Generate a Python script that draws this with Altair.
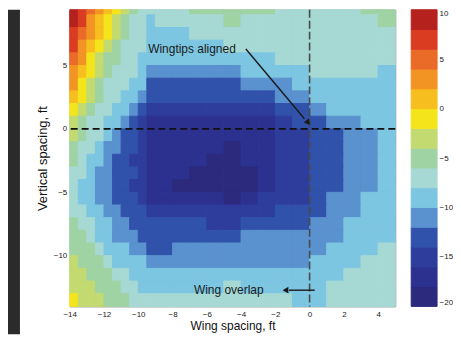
import altair as alt
import pandas as pd

# ---- grid of the contour field ----
x_edges = [-14, -13.5, -13, -12.5, -12, -11.5, -11, -10.5, -10, -9.5, -9,
           -8, -7, -6, -5, -4, -3, -2, -1, 0, 1, 2, 3, 4, 5]
y_edges_top_down = [9.4, 9, 8, 7, 6, 5, 4, 3, 2, 1, 0, -1, -2, -3, -4, -5,
                    -6, -7, -8, -9, -10, -11, -12, -13, -14]

values = [
    [8.5, 7.0, 5.0, 2.2, 0.2, -1.9, -3.6, -5.3, -6.5, -7.0, -7.0, -6.5, -5.9, -5.5, -5.3, -5.5, -5.9, -6.3, -6.6, -6.7, -6.5, -6.1, -5.6, -5.2],
    [8.1, 6.1, 3.8, 1.4, -0.7, -2.7, -4.4, -6.1, -7.2, -8.3, -7.7, -7.2, -6.7, -6.1, -5.6, -6.1, -6.5, -6.8, -7.0, -7.1, -6.9, -6.5, -6.1, -5.6],
    [7.3, 5.0, 2.5, 0.2, -1.9, -3.7, -5.4, -7.0, -7.7, -8.6, -8.4, -8.05, -7.8, -7.4, -7.0, -7.0, -7.2, -7.3, -7.4, -7.4, -7.3, -7.0, -6.6, -6.3],
    [6.2, 3.9, 1.2, -1.0, -3.0, -4.8, -6.3, -7.1, -7.9, -8.8, -9.0, -8.8, -8.5, -8.3, -7.9, -7.6, -7.5, -7.6, -7.7, -7.7, -7.6, -7.4, -7.1, -6.8],
    [5.2, 2.4, -0.1, -2.3, -4.1, -5.9, -6.8, -7.6, -8.1, -9.2, -9.6, -9.7, -9.6, -9.3, -9.0, -8.6, -8.1, -7.8, -7.9, -7.9, -7.9, -7.8, -7.6, -7.4],
    [3.9, 1.0, -1.4, -3.3, -5.2, -6.5, -7.3, -7.9, -9.0, -10.3, -10.8, -10.9, -10.8, -10.6, -10.6, -9.9, -9.4, -9.0, -8.4, -7.95, -7.9, -7.95, -7.95, -8.1],
    [2.1, -0.4, -2.6, -4.5, -6.2, -6.9, -7.6, -8.5, -9.9, -12.3, -12.8, -13.0, -13.0, -12.8, -12.5, -11.8, -11.0, -10.2, -9.5, -9.0, -8.6, -8.4, -8.3, -8.3],
    [0.8, -1.8, -3.8, -5.8, -6.6, -7.4, -8.3, -9.6, -11.9, -13.5, -13.8, -13.9, -13.9, -13.8, -13.6, -13.3, -12.2, -11.5, -10.3, -9.6, -9.2, -8.9, -8.7, -8.6],
    [-0.8, -2.9, -4.9, -6.5, -7.1, -8.2, -9.7, -11.4, -13.9, -14.8, -15.2, -15.4, -15.4, -15.3, -15.2, -15.0, -14.5, -13.5, -12.2, -11.0, -9.9, -9.4, -9.1, -8.9],
    [-2.1, -4.1, -6.1, -7.1, -8.1, -9.7, -11.1, -12.5, -14.6, -16.3, -16.8, -17.2, -17.4, -17.5, -17.7, -17.2, -16.2, -15.0, -13.6, -12.5, -11.2, -10.6, -9.9, -9.4],
    [-3.3, -5.6, -6.8, -7.7, -9.2, -10.8, -12.1, -13.6, -15.3, -16.6, -17.2, -17.6, -17.8, -17.9, -17.95, -17.6, -16.8, -15.3, -14.2, -13.0, -12.2, -11.2, -10.3, -9.4],
    [-4.3, -6.4, -7.4, -8.6, -10.1, -11.4, -12.7, -13.8, -15.4, -16.8, -17.4, -17.8, -17.95, -17.95, -18.4, -17.8, -17.1, -15.8, -14.6, -13.2, -12.3, -11.3, -10.4, -9.5],
    [-5.0, -6.8, -8.05, -9.5, -10.8, -12.05, -13.0, -14.1, -15.5, -16.9, -17.5, -17.9, -17.95, -18.5, -18.9, -17.95, -17.2, -15.9, -14.6, -13.3, -12.4, -11.4, -10.5, -9.6],
    [-6.1, -7.5, -8.8, -10.1, -11.3, -12.5, -13.3, -14.0, -15.5, -16.9, -17.5, -17.9, -18.2, -19.0, -19.3, -18.05, -17.2, -15.9, -14.6, -13.3, -12.4, -11.4, -10.5, -9.6],
    [-6.9, -8.3, -9.5, -10.8, -11.9, -12.8, -13.5, -14.1, -15.5, -16.6, -17.4, -18.05, -18.6, -19.2, -19.4, -18.6, -17.3, -15.9, -14.6, -13.2, -12.3, -11.4, -10.2, -9.4],
    [-7.0, -8.05, -9.1, -10.1, -11.2, -12.3, -13.1, -13.8, -15.0, -16.1, -16.6, -17.2, -17.7, -17.95, -18.3, -17.6, -15.8, -15.3, -14.1, -13.0, -11.9, -11.0, -9.9, -9.3],
    [-6.05, -7.3, -8.5, -9.5, -10.5, -11.4, -12.4, -13.3, -14.0, -14.6, -15.0, -15.3, -15.5, -15.7, -15.8, -15.6, -14.7, -13.7, -13.2, -12.2, -11.3, -10.3, -9.4, -9.0],
    [-5.8, -7.0, -7.9, -9.1, -9.9, -10.7, -11.8, -12.5, -13.0, -13.3, -13.6, -13.8, -13.95, -14.2, -14.3, -13.95, -13.6, -13.3, -12.05, -11.6, -11.0, -9.9, -9.2, -8.6],
    [-4.9, -5.7, -6.6, -8.3, -9.3, -10.1, -10.8, -11.6, -12.2, -12.5, -12.7, -12.9, -13.0, -13.0, -12.9, -12.0, -11.7, -11.5, -11.2, -10.9, -10.1, -9.4, -8.9, -8.1],
    [-4.3, -5.2, -5.8, -6.9, -8.3, -9.0, -9.6, -10.2, -11.2, -12.1, -12.2, -11.9, -11.7, -11.6, -11.5, -11.4, -11.2, -11.0, -10.8, -10.4, -9.6, -9.0, -8.3, -7.5],
    [-3.4, -4.5, -5.2, -5.8, -7.0, -8.05, -8.8, -9.4, -9.9, -10.3, -10.4, -10.5, -10.5, -10.5, -10.5, -10.4, -10.4, -10.3, -10.2, -9.95, -9.3, -8.4, -7.6, -7.1],
    [-2.6, -3.6, -4.4, -5.0, -5.7, -6.8, -7.8, -8.4, -8.8, -9.1, -9.4, -9.5, -9.6, -9.6, -9.6, -9.6, -9.6, -9.6, -9.7, -9.4, -8.7, -7.7, -7.2, -6.8],
    [-2.2, -2.9, -3.8, -4.5, -5.2, -5.8, -6.6, -7.4, -8.1, -8.4, -8.6, -8.6, -8.5, -8.2, -7.9, -8.2, -8.5, -8.6, -8.6, -8.4, -7.9, -7.3, -6.9, -6.6],
    [-1.3, -2.2, -3.1, -3.9, -4.5, -5.1, -5.8, -6.5, -7.2, -7.7, -7.95, -7.8, -7.6, -7.4, -7.3, -7.5, -7.7, -7.95, -8.2, -8.05, -7.5, -7.0, -6.6, -6.3],
]

# contour levels and their colours
levels = [-18, -16, -14, -12, -10, -8, -6, -4, -2, 0, 2, 4, 6, 8]
level_colors = ["#2c2a7d", "#2c318f", "#2e3c9c", "#3152aa", "#5a91cf",
                "#7cc6e2", "#a6d9d4", "#9fd3a4", "#c3da70", "#f4e41c",
                "#f6be1e", "#f29424", "#ea6a28", "#da3c22", "#b5221e"]

# colour bar bands
cbar_lo = [-20, -18, -16, -14, -12, -10, -8, -6, -4, -2, 0, 2, 4, 6, 8]
cbar_hi = [-18, -16, -14, -12, -10, -8, -6, -4, -2, 0, 2, 4, 6, 8, 10]
cbar_ticks = [-20, -15, -10, -5, 0, 5, 10]

x_ticks = [-14, -12, -10, -8, -6, -4, -2, 0, 2, 4]
y_ticks = [-10, -5, 0, 5]

# annotations
notes_text = ["Wingtips aligned", "Wing overlap"]
notes_x = [-9.42, -6.75]
notes_y = [6.3, -12.72]
arrow_x0 = [-3.72, 0.3]
arrow_y0 = [6.3, -12.72]
arrow_x1 = [-0.3, -1.2]
arrow_y1 = [0.8, -12.72]
head_x = [-0.12, -1.35]
head_y = [0.55, -12.72]
head_angle = [141, 270]

# ---- build tables ----
rows = []
for i, row in enumerate(values):
    for j, v in enumerate(row):
        rows.append({"x": x_edges[j], "x2": x_edges[j + 1],
                     "y": y_edges_top_down[i + 1], "y2": y_edges_top_down[i], "v": v})
grid = pd.DataFrame(rows)

cbar = pd.DataFrame({"lo": cbar_lo, "hi": cbar_hi,
                     "v": [(a + b) / 2 for a, b in zip(cbar_lo, cbar_hi)]})
notes = pd.DataFrame({"t": notes_text, "x": notes_x, "y": notes_y})
arrows = pd.DataFrame({"x0": arrow_x0, "y0": arrow_y0, "x1": arrow_x1, "y1": arrow_y1})
heads = pd.DataFrame({"x": head_x, "y": head_y, "a": head_angle})

color_scale = alt.Scale(type="threshold", domain=levels, range=level_colors)
xs = alt.Scale(domain=[-14, 5], nice=False, zero=False)
ys = alt.Scale(domain=[-14, 9.4], nice=False, zero=False)
cs = alt.Scale(domain=[-20, 10], nice=False, zero=False)

FONT = "Liberation Sans"

x_axis = alt.Axis(values=x_ticks, title="Wing spacing, ft", titlePadding=2,
                  labelPadding=4, titleFontSize=12, labelFlush=False, labelOverlap=False)
y_axis = alt.Axis(values=y_ticks, title="Vertical spacing, ft", titlePadding=4,
                  labelPadding=3, titleFontSize=13, labelOverlap=False)

field = alt.Chart(grid).mark_rect(strokeWidth=1).encode(
    x=alt.X("x:Q", scale=xs, axis=x_axis),
    x2="x2:Q",
    y=alt.Y("y:Q", scale=ys, axis=y_axis),
    y2="y2:Q",
    color=alt.Color("v:Q", scale=color_scale, legend=None),
    stroke=alt.Stroke("v:Q", scale=color_scale, legend=None),
)

hline = alt.Chart(pd.DataFrame({"y": [0]})).mark_rule(
    color="#111111", strokeWidth=1.6, strokeDash=[7, 4]).encode(
    y=alt.Y("y:Q", scale=ys, axis=y_axis))
vline = alt.Chart(pd.DataFrame({"x": [0]})).mark_rule(
    color="#4a4a4a", strokeWidth=1.6, strokeDash=[8, 3]).encode(
    x=alt.X("x:Q", scale=xs, axis=x_axis))

shafts = alt.Chart(arrows).mark_rule(color="#1a1a1a", strokeWidth=1.4).encode(
    x=alt.X("x0:Q", scale=xs, axis=x_axis), y=alt.Y("y0:Q", scale=ys, axis=y_axis),
    x2="x1:Q", y2="y1:Q")
tips = alt.Chart(heads).mark_point(shape="triangle", filled=True, size=45,
                                   color="#1a1a1a", opacity=1).encode(
    x=alt.X("x:Q", scale=xs, axis=x_axis), y=alt.Y("y:Q", scale=ys, axis=y_axis),
    angle=alt.Angle("a:Q", scale=None))

labels = alt.Chart(notes).mark_text(align="left", baseline="middle", font=FONT,
                                    fontSize=12, color="#1a1a1a").encode(
    x=alt.X("x:Q", scale=xs, axis=x_axis), y=alt.Y("y:Q", scale=ys, axis=y_axis),
    text="t:N")

strip = alt.Chart(pd.DataFrame({"k": [0]})).mark_rect(color="#2b2b2b").encode(
    x=alt.value(-62), x2=alt.value(-50), y=alt.value(0), y2=alt.value(326))

main = alt.layer(strip, field, hline, vline, shafts, tips, labels)

# colour bar, drawn to the right of the plot on its own scale
colorbar = alt.Chart(cbar).mark_rect(
    strokeWidth=1, x=alt.expr("width + 16"), x2=alt.expr("width + 42")).encode(
    y=alt.Y("lo:Q", scale=cs,
            axis=alt.Axis(orient="right", values=cbar_ticks, title=None, offset=42,
                          labelPadding=2, format="d", labelFlush=True,
                          labelOverlap=False)),
    y2="hi:Q",
    color=alt.Color("v:Q", scale=color_scale, legend=None),
    stroke=alt.Stroke("v:Q", scale=color_scale, legend=None),
)

chart = alt.layer(main, colorbar).resolve_scale(y="independent").properties(
    width=327, height=298,
    padding={"left": 0, "top": 0, "right": 0, "bottom": 5},
    background="white",
).configure_axis(
    labelFont=FONT, labelFontSize=8, labelColor="#222222",
    titleFont=FONT, titleFontWeight="normal", titleColor="#111111",
    ticks=False, domain=False, grid=False, labelOverlap=False,
).configure_view(stroke="#8a8a8a", strokeWidth=1)

chart.save("out.html", embed_options={"renderer": "svg", "actions": False})
